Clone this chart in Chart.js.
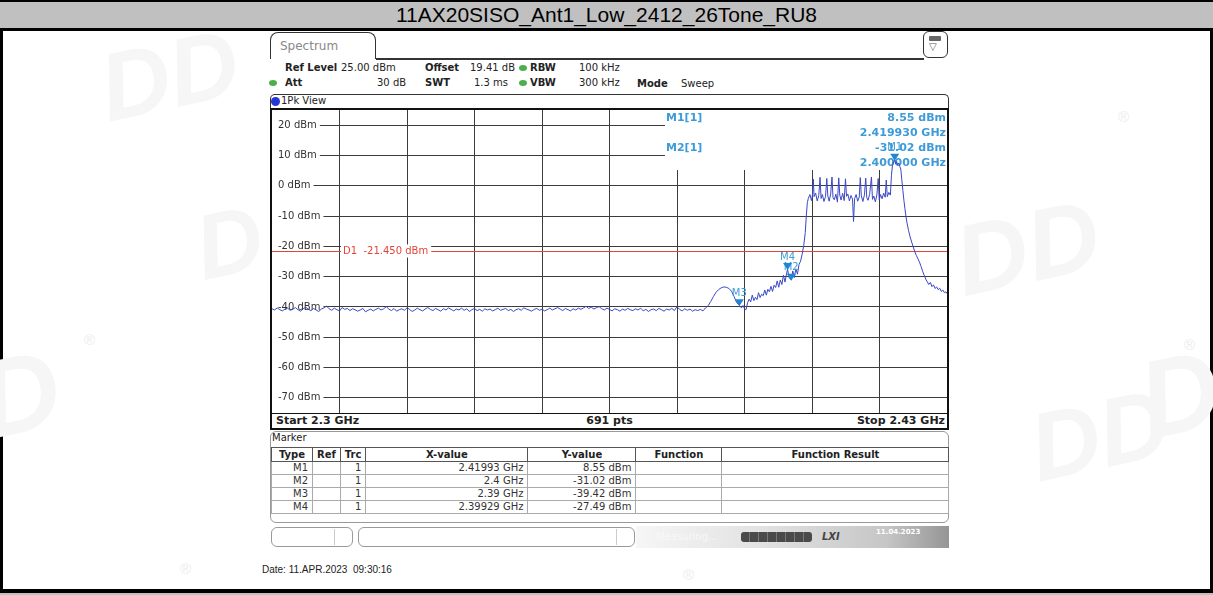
<!DOCTYPE html>
<html lang="en">
<head>
<meta charset="UTF-8">
<title>11AX20SISO_Ant1_Low_2412_26Tone_RU8</title>
<style>
  html, body { margin: 0; padding: 0; }
  body {
    width: 1213px; height: 595px; position: relative; overflow: hidden;
    background: #fff; font-family: "DejaVu Sans", Verdana, sans-serif; color: #222;
  }
  .abs { position: absolute; }
  #pageFrame { left: 0; top: 0; width: 1207px; height: 590px; border-left: 3px solid #000; border-right: 3px solid #000; }
  #titleBar {
    left: 0; top: 0; width: 1213px; height: 26px; background: #c0c0c0;
    border-top: 2px solid #000; border-bottom: 3px solid #000; box-sizing: content-box;
    font-family: "Liberation Sans", Arial, sans-serif; font-size: 21px; line-height: 26px;
    text-align: center; color: #000;
  }
  #bottomRule { left: 0; top: 589px; width: 1213px; height: 4px; background: #000; }
  #bottomGray { left: 0; top: 593px; width: 1213px; height: 2px; background: #c0c0c0; }
  .wm { position: absolute; font-family: "Liberation Sans", Arial, sans-serif; font-weight: bold; font-style: italic; color: #f6f6f6; white-space: nowrap; }
  .reg { position: absolute; font-family: "Liberation Sans", Arial, sans-serif; font-size: 15px; color: #ececec; }
  #tab {
    left: 270px; top: 32px; width: 106px; height: 27px; border: 1.5px solid #333; border-bottom: none;
    border-radius: 8px 8px 0 0; font-size: 12px; color: #888; line-height: 26px; padding-left: 9px; box-sizing: border-box; background: #fff;
  }
  #tabRule { left: 376px; top: 58px; width: 548px; height: 1.5px; background: #333; }
  #icon { left: 923px; top: 31px; width: 25px; height: 27px; border: 1.5px solid #333; border-radius: 6px; box-sizing: border-box; background: #fff; }
  #icon .bar { position: absolute; left: 5px; top: 4px; width: 12px; height: 5px; background: #666; border-radius: 1px; }
  #icon .tri { position: absolute; left: 5px; top: 9px; font-size: 10px; color: #555; }
  .hdr { font-size: 10px; line-height: 12px; white-space: nowrap; }
  .hdr b { font-weight: bold; }
  .dot { width: 8px; height: 6px; border-radius: 50%; background: #4bb04b; }
  #viewBar { left: 270px; top: 94px; width: 679px; height: 16px; border: 1px solid #333; border-bottom: none; border-radius: 5px 5px 0 0; box-sizing: border-box; background: #fff; }
  #viewDot { left: 271px; top: 97px; width: 9px; height: 9px; border-radius: 50%; background: #2436d6; }
  #viewText { left: 281px; top: 95px; font-size: 10px; line-height: 12px; }
  #plotFrame { left: 270px; top: 108px; width: 679px; height: 322px; border: 2px solid #111; box-sizing: border-box; background: #fff; }
  #plot { left: 272px; top: 110px; width: 675px; height: 303px; }
  #spanBar { left: 272px; top: 413px; width: 675px; height: 15px; border-top: 1.5px solid #111; box-sizing: border-box; font-size: 11px; font-weight: bold; line-height: 14px; }
  #spanBar span { position: absolute; top: 0; }
  #markerBox { left: 270px; top: 431px; width: 679px; height: 92px; border: 1px solid #999; border-radius: 6px; box-sizing: border-box; background: #fff; }
  #markerLabel { left: 272px; top: 432px; font-size: 10px; line-height: 12px; }
  #markerTable { left: 271px; top: 447px; border-collapse: collapse; table-layout: fixed; font-size: 10px; }
  #markerTable th, #markerTable td { border: 1px solid #aaa; line-height: 12px; padding: 0 4px; white-space: nowrap; overflow: hidden; }
  #markerTable th { height: 13px; font-weight: bold; text-align: center; border-color: #555; }
  #markerTable td { height: 12px; text-align: right; color: #333; }
  .sbBox { top: 527px; height: 20px; border: 1px solid #999; border-radius: 6px; box-sizing: border-box; background: #fff; }
  .sbSep { top: 529px; width: 1px; height: 16px; background: #ccc; }
  #sbRight { left: 636px; top: 526px; width: 313px; height: 22px; background: linear-gradient(to right, #f6f6f6 0%, #e2e2e2 40%, #c6c6c6 80%, #959595 100%); }
  #measuring { left: 656px; top: 531px; font-size: 10px; color: #f8f8f8; }
  #progress { left: 741px; top: 532px; width: 71px; height: 10px; background: repeating-linear-gradient(to right, #4a4a4a 0, #4a4a4a 8px, #777 8px, #777 9px); border-radius: 3px; }
  #lxi { left: 822px; top: 531px; font-size: 10px; font-weight: bold; font-style: italic; color: #444; }
  #sbDate { left: 876px; top: 528px; font-size: 7px; font-weight: bold; color: #fff; }
  #dateLine { left: 262px; top: 564px; font-family: "Liberation Sans", Arial, sans-serif; font-size: 10px; color: #222; white-space: pre; }
</style>
</head>
<body>
<div id="pageFrame" class="abs"></div>

<!-- faint DDT watermark marks in the page background -->
<div class="wm" style="left:100px; top:20px; font-size:96px; transform:rotate(-12deg)">DD</div>
<div class="wm" style="left:196px; top:190px; font-size:92px; transform:rotate(-12deg)">D</div>
<div class="wm" style="left:-20px; top:330px; font-size:110px; transform:rotate(-12deg)">D</div>
<div class="wm" style="left:955px; top:190px; font-size:100px; transform:rotate(-12deg)">DD</div>
<div class="wm" style="left:1030px; top:380px; font-size:96px; transform:rotate(-12deg)">DD</div>
<div class="wm" style="left:1140px; top:330px; font-size:110px; transform:rotate(-12deg)">D</div>
<div class="reg" style="left:1118px; top:108px">&#174;</div>
<div class="reg" style="left:84px; top:331px">&#174;</div>
<div class="reg" style="left:1184px; top:336px">&#174;</div>
<div class="reg" style="left:180px; top:560px">&#174;</div>
<div class="reg" style="left:683px; top:566px">&#174;</div>

<div id="titleBar" class="abs"></div>
<div id="bottomRule" class="abs"></div>
<div id="bottomGray" class="abs"></div>

<div id="tab" class="abs">Spectrum</div>
<div id="tabRule" class="abs"></div>
<div id="icon" class="abs"><div class="bar"></div><div class="tri">&#9661;</div></div>

<div class="abs hdr" style="left:285px; top:62px"><b>Ref Level</b></div>
<div class="abs hdr" style="left:341px; top:62px">25.00 dBm</div>
<div class="abs hdr" style="left:425px; top:62px"><b>Offset</b></div>
<div class="abs hdr" style="left:470px; top:62px">19.41 dB</div>
<div class="abs dot" style="left:519px; top:65px"></div>
<div class="abs hdr" style="left:530px; top:62px"><b>RBW</b></div>
<div class="abs hdr" style="left:579px; top:62px">100 kHz</div>

<div class="abs dot" style="left:269px; top:80px"></div>
<div class="abs hdr" style="left:285px; top:77px"><b>Att</b></div>
<div class="abs hdr" style="left:377px; top:77px">30 dB</div>
<div class="abs hdr" style="left:425px; top:77px"><b>SWT</b></div>
<div class="abs hdr" style="left:474px; top:77px">1.3 ms</div>
<div class="abs dot" style="left:519px; top:80px"></div>
<div class="abs hdr" style="left:530px; top:77px"><b>VBW</b></div>
<div class="abs hdr" style="left:579px; top:77px">300 kHz</div>
<div class="abs hdr" style="left:637px; top:78px"><b>Mode</b></div>
<div class="abs hdr" style="left:681px; top:78px">Sweep</div>

<div id="viewBar" class="abs"></div>
<div id="viewDot" class="abs"></div>
<div id="viewText" class="abs">1Pk View</div>

<div id="plotFrame" class="abs"></div>
<div id="plot" class="abs"><canvas id="spectrumChart"></canvas></div>
<div id="spanBar" class="abs">
  <span id="startLabel" style="left:4px"></span>
  <span id="ptsLabel" style="left:0; width:675px; text-align:center"></span>
  <span id="stopLabel" style="right:2px"></span>
</div>

<div id="markerBox" class="abs"></div>
<div id="markerLabel" class="abs">Marker</div>
<table id="markerTable" class="abs">
  <colgroup>
    <col style="width:41px"><col style="width:25px"><col style="width:24px">
    <col style="width:162px"><col style="width:108px"><col style="width:86px"><col style="width:227px">
  </colgroup>
  <thead><tr><th>Type</th><th>Ref</th><th>Trc</th><th>X-value</th><th>Y-value</th><th>Function</th><th>Function Result</th></tr></thead>
  <tbody id="markerRows"></tbody>
</table>

<div class="abs sbBox" style="left:271px; width:82px"></div>
<div class="abs sbSep" style="left:334px"></div>
<div class="abs sbBox" style="left:358px; width:277px"></div>
<div class="abs sbSep" style="left:616px"></div>
<div id="sbRight" class="abs"></div>
<div id="measuring" class="abs">Measuring...</div>
<div id="progress" class="abs"></div>
<div id="lxi" class="abs">LXI</div>
<div id="sbDate" class="abs">11.04.2023</div>

<div id="dateLine" class="abs">Date: 11.APR.2023  09:30:16</div>

<script src="https://cdn.jsdelivr.net/npm/chart.js"></script>
<script>
// ---- values ----
const titleText = '11AX20SISO_Ant1_Low_2412_26Tone_RU8';
const startMHz = 2300;
const stopMHz = 2430;
const sweepPoints = 691;
const refLevelDbm = 25;
const bottomDbm = -75;
const yTickDbm = [20, 10, 0, -10, -20, -30, -40, -50, -60, -70];
const xGridMHz = [2313, 2326, 2339, 2352, 2365, 2378, 2391, 2404, 2417];
const displayLineDbm = -21.45;

// noise floor, sampled every 0.5 MHz from 2300 MHz
const noiseStartMHz = 2300;
const noiseStepMHz = 0.5;
const noiseDbm = [
  -40.6, -41.0, -40.3, -40.9, -41.3, -40.7, -40.4, -41.1, -40.8, -40.2,
  -40.9, -41.4, -40.6, -40.1, -40.8, -41.2, -40.5, -41.0, -41.5, -40.7,
  -40.3, -39.7, -40.6, -41.1, -40.4, -40.9, -41.3, -40.2, -40.8, -40.5,
  -41.2, -40.6, -40.9, -41.4, -41.0, -40.5, -41.6, -41.1, -40.7, -41.3,
  -40.8, -40.4, -41.0, -40.6, -39.9, -40.7, -41.2, -40.5, -41.4, -40.9,
  -40.6, -41.1, -40.3, -40.8, -41.5, -41.0, -40.4, -40.9, -41.3, -40.7,
  -40.2, -40.8, -41.2, -40.5, -40.9, -41.4, -40.6, -41.0, -40.3, -40.8,
  -41.3, -40.7, -41.0, -40.4, -41.1, -40.6, -41.5, -40.9, -40.5, -41.2,
  -40.8, -41.4, -40.6, -41.0, -40.7, -41.3, -40.9, -40.4, -41.1, -40.8,
  -40.5, -41.2, -40.8, -41.5, -40.9, -40.6, -41.1, -40.3, -40.7, -41.0,
  -41.4, -40.8, -40.5, -41.1, -40.7, -41.3, -40.9, -40.4, -41.0, -40.6,
  -40.2, -40.7, -41.2, -40.5, -40.9, -41.3, -40.6, -41.0, -40.4, -40.8,
  -40.3, -39.8, -40.5, -40.1, -40.7, -40.2, -39.9, -40.6, -41.0, -40.4,
  -40.8, -41.3, -40.6, -40.9, -41.4, -40.7, -41.1, -40.5, -40.9, -41.2,
  -40.6, -41.0, -40.4, -41.3, -40.8, -41.5, -40.9, -40.7, -41.2, -40.5,
  -40.9, -41.4, -40.7, -41.0, -40.5, -41.2, -39.9, -40.8, -41.3, -40.6,
  -41.1, -40.7, -41.4, -40.9, -41.2, -40.8, -41.3
];

// signal part of the trace (MHz / dBm)
const signalMHz = [
  2383.5, 2384.0, 2384.5, 2385.0, 2385.5, 2386.0, 2386.5, 2387.0, 2387.5, 2388.0,
  2388.5, 2389.0, 2389.5, 2390.0, 2390.4, 2390.7, 2391.0, 2391.3, 2391.6, 2391.9,
  2392.2, 2392.5, 2392.8, 2393.1, 2393.4, 2393.7, 2394.0, 2394.3, 2394.6, 2394.9,
  2395.2, 2395.5, 2395.8, 2396.1, 2396.4, 2396.7, 2397.0, 2397.3, 2397.6, 2397.9,
  2398.2, 2398.5, 2398.8, 2399.0, 2399.29, 2399.6, 2400.0, 2400.3, 2400.6, 2400.9,
  2401.2, 2401.5, 2401.8, 2402.1, 2402.4, 2402.7, 2402.9, 2403.1, 2403.3, 2403.6,
  2403.9, 2404.1, 2404.25, 2404.4, 2404.7, 2405.0, 2405.3, 2405.55, 2405.75, 2406.0,
  2406.3, 2406.6, 2406.85, 2407.05, 2407.3, 2407.6, 2407.85, 2408.05, 2408.3, 2408.6,
  2408.9, 2409.15, 2409.35, 2409.6, 2409.9, 2410.2, 2410.45, 2410.65, 2410.9, 2411.2,
  2411.5, 2411.8, 2412.0, 2412.2, 2412.5, 2412.8, 2413.1, 2413.3, 2413.5, 2413.8,
  2414.1, 2414.35, 2414.55, 2414.8, 2415.1, 2415.45, 2415.65, 2415.9, 2416.2, 2416.5,
  2416.75, 2416.95, 2417.2, 2417.5, 2417.8, 2418.1, 2418.3, 2418.5, 2418.8, 2419.1,
  2419.3, 2419.5, 2419.7, 2419.93, 2420.1, 2420.3, 2420.5, 2420.7, 2420.9, 2421.1,
  2421.3, 2421.5, 2421.7, 2421.9, 2422.1, 2422.3, 2422.6, 2422.9, 2423.2, 2423.5,
  2423.8, 2424.1, 2424.4, 2424.7, 2425.0, 2425.3, 2425.6, 2425.9, 2426.2, 2426.5,
  2426.8, 2427.1, 2427.4, 2427.7, 2428.0, 2428.3, 2428.6, 2428.9, 2429.2, 2429.5,
  2429.8, 2430.0
];
const signalDbm = [
  -40.3, -39.6, -38.2, -36.6, -35.2, -34.3, -33.7, -33.4, -33.5, -33.9,
  -34.8, -36.6, -38.6, -39.42, -40.3, -39.5, -40.6, -40.9, -38.6, -37.4,
  -38.3, -36.1, -37.9, -36.8, -37.6, -35.3, -36.9, -35.8, -36.3, -34.4,
  -36.1, -34.2, -35.0, -33.2, -34.9, -32.8, -33.6, -31.4, -33.5, -31.1,
  -32.6, -29.5, -31.8, -29.9, -27.49, -30.4, -31.02, -28.1, -30.3, -27.4,
  -29.2, -26.0, -24.9, -22.6, -19.8, -15.5, -10.0, -5.6, -4.1, -2.9,
  -4.9, -3.0, 2.2, -3.6, -2.4, -5.0, -3.3, 2.8, -4.2, -2.9,
  -5.2, -3.6, 2.4, -3.4, -5.1, -2.7, 2.9, -4.0, -4.6, -2.8,
  -5.4, 2.6, -3.1, -4.7, -2.5, -4.9, 2.3, -3.5, -2.7, -5.0,
  -3.2, -4.4, -11.8, -4.3, -2.9, -5.1, -3.7, 2.7, -3.3, -5.2,
  -3.0, 2.5, -3.9, -4.8, -2.8, 2.9, -4.5, -3.4, -5.3, -3.0,
  2.4, -4.7, -2.9, -4.3, -2.4, -3.8, 1.9, -3.6, -2.2, -3.1,
  3.5, 6.8, 7.6, 8.55, 7.2, 7.9, 6.9, 7.5, 6.4, 5.5,
  2.0, -1.5, -4.8, -7.6, -10.2, -12.3, -14.8, -16.9, -18.6, -20.2,
  -21.8, -23.0, -24.1, -25.2, -26.6, -28.2, -29.5, -30.8, -31.7, -32.6,
  -31.9, -33.3, -32.7, -33.9, -33.4, -34.3, -33.8, -34.9, -34.4, -35.3,
  -35.0, -35.6
];

const markerNames = ['M1', 'M2', 'M3', 'M4'];
const markerMHz = [2419.93, 2400.0, 2390.0, 2399.29];
const markerDbm = [8.55, -31.02, -39.42, -27.49];
const readoutMarkers = [0, 1]; // M1[1], M2[1] shown top right

// ---- static texts ----
document.getElementById('titleBar').textContent = titleText;
document.getElementById('startLabel').textContent = 'Start ' + (startMHz / 1000) + ' GHz';
document.getElementById('ptsLabel').textContent = sweepPoints + ' pts';
document.getElementById('stopLabel').textContent = 'Stop ' + (stopMHz / 1000) + ' GHz';

const ghzShort = mhz => parseFloat((mhz / 1000).toFixed(5)) + ' GHz';
const rows = document.getElementById('markerRows');
markerNames.forEach((name, i) => {
  const tr = document.createElement('tr');
  [name, '', '1', ghzShort(markerMHz[i]), markerDbm[i].toFixed(2) + ' dBm', '', ''].forEach(t => {
    const td = document.createElement('td');
    td.textContent = t;
    tr.appendChild(td);
  });
  rows.appendChild(tr);
});

// ---- trace points ----
const tracePoints = [];
noiseDbm.forEach((v, i) => tracePoints.push({ x: noiseStartMHz + i * noiseStepMHz, y: v }));
signalMHz.forEach((f, i) => tracePoints.push({ x: f, y: signalDbm[i] }));

const markerBlue = '#1f86d2';
const markerTextBlue = '#3d9bd8';

const overlayPlugin = {
  id: 'overlay',
  beforeDatasetsDraw(chart) {
    const { ctx, chartArea: a, scales: { y } } = chart;
    ctx.save();

    // display line D1
    const dy = Math.round(y.getPixelForValue(displayLineDbm)) + 0.5;
    ctx.strokeStyle = '#e2453c';
    ctx.lineWidth = 1;
    ctx.beginPath();
    ctx.moveTo(a.left, dy);
    ctx.lineTo(a.right, dy);
    ctx.stroke();
    ctx.font = '10px "DejaVu Sans"';
    const d1 = 'D1  ' + displayLineDbm.toFixed(3) + ' dBm';
    const d1w = ctx.measureText(d1).width;
    ctx.fillStyle = '#fff';
    ctx.fillRect(a.left + 69, dy - 7, d1w + 5, 13);
    ctx.fillStyle = '#e2453c';
    ctx.textBaseline = 'middle';
    ctx.textAlign = 'left';
    ctx.fillText(d1, a.left + 71, dy);

    // marker readout box
    const bx = a.left + 393;
    ctx.fillStyle = '#fff';
    ctx.fillRect(bx, a.top, a.right - bx, 60);
    ctx.font = 'bold 11px "DejaVu Sans"';
    ctx.fillStyle = markerTextBlue;
    readoutMarkers.forEach((m, k) => {
      const ty = a.top + 8 + k * 30;
      ctx.textAlign = 'left';
      ctx.fillText(markerNames[m] + '[1]', bx + 1, ty);
      ctx.textAlign = 'right';
      ctx.fillText(markerDbm[m].toFixed(2) + ' dBm', a.right - 1, ty);
      ctx.fillText((markerMHz[m] / 1000).toFixed(6) + ' GHz', a.right - 1, ty + 15);
    });
    ctx.restore();
  },
  afterDatasetsDraw(chart) {
    const { ctx, scales: { x, y } } = chart;
    ctx.save();
    ctx.font = '10px "DejaVu Sans"';
    ctx.textAlign = 'center';
    ctx.textBaseline = 'middle';
    markerNames.forEach((name, i) => {
      const px = x.getPixelForValue(markerMHz[i]);
      const py = y.getPixelForValue(markerDbm[i]);
      ctx.fillStyle = markerTextBlue;
      ctx.fillText(name, px, py - 12);
    });
    markerNames.forEach((name, i) => {
      const px = x.getPixelForValue(markerMHz[i]);
      const py = y.getPixelForValue(markerDbm[i]);
      ctx.fillStyle = markerBlue;
      ctx.beginPath();
      ctx.moveTo(px - 4.5, py - 6);
      ctx.lineTo(px + 4.5, py - 6);
      ctx.lineTo(px, py + 1);
      ctx.closePath();
      ctx.fill();
    });
    ctx.restore();
  }
};

// axes take no room: the plot fills the whole canvas like the analyzer grid
const noRoom = s => {
  s.paddingTop = 0; s.paddingBottom = 0; s.paddingLeft = 0; s.paddingRight = 0;
  if (s.isHorizontal()) s.height = 0; else s.width = 0;
};

const ctx = document.getElementById('spectrumChart').getContext('2d');
const chart = new Chart(ctx, {
  type: 'line',
  data: {
    datasets: [{
      label: '1Pk',
      data: tracePoints,
      borderColor: '#3a47c6',
      borderWidth: 1,
      pointRadius: 0,
      tension: 0,
      fill: false
    }]
  },
  options: {
    responsive: true,
    maintainAspectRatio: false,
    animation: false,
    layout: { padding: 0 },
    plugins: { legend: { display: false }, tooltip: { enabled: false } },
    scales: {
      x: {
        type: 'linear',
        min: startMHz,
        max: stopMHz,
        afterBuildTicks: s => { s.ticks = xGridMHz.map(v => ({ value: v })); },
        afterFit: noRoom,
        ticks: { display: false },
        grid: { color: '#3c3c3c', lineWidth: 1, drawTicks: false },
        border: { display: false }
      },
      y: {
        type: 'linear',
        min: bottomDbm,
        max: refLevelDbm,
        afterBuildTicks: s => { s.ticks = yTickDbm.map(v => ({ value: v })); },
        afterFit: noRoom,
        ticks: {
          mirror: true,
          padding: 6,
          color: '#333',
          font: { family: 'DejaVu Sans', size: 10 },
          callback: v => v + ' dBm',
          showLabelBackdrop: true,
          backdropColor: '#fff',
          backdropPadding: { left: 6, right: 3, top: 0, bottom: 0 }
        },
        grid: { color: '#3c3c3c', lineWidth: 1, drawTicks: false },
        border: { display: false }
      }
    }
  },
  plugins: [overlayPlugin]
});
</script>
</body>
</html>
